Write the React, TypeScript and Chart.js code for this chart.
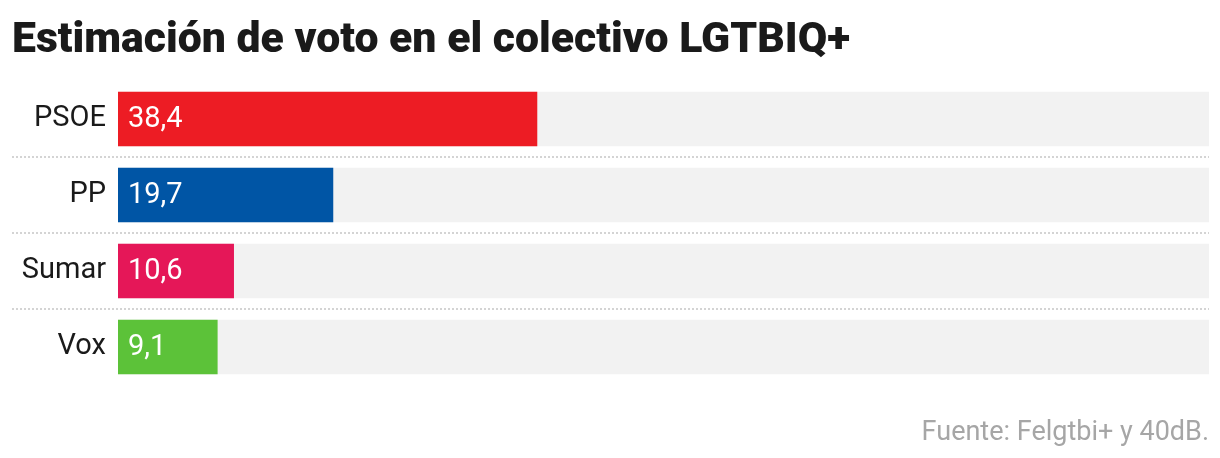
import React, { useEffect, useRef } from "react";
import { Chart, registerables } from "chart.js";

Chart.register(...registerables);

const categories = ["PSOE", "PP", "Sumar", "Vox"];
const values = [38.4, 19.7, 10.6, 9.1];
const barColors = ["#ED1C24", "#0055A5", "#E51758", "#5CC239"];
const trackValues = [100, 100, 100, 100];
const titleText = "Estimación de voto en el colectivo LGTBIQ+";
const sourceText = "Fuente: Felgtbi+ y 40dB.";

const fmt = (v: number) => v.toFixed(1).replace(".", ",");

const decor = {
  id: "decor",
  afterDatasetsDraw(chart: any) {
    const ctx = chart.ctx;
    const y = chart.scales.y;
    const area = chart.chartArea;
    ctx.save();
    // separators
    ctx.strokeStyle = "#d4d4d4";
    ctx.lineWidth = 2;
    ctx.setLineDash([2, 2]);
    for (let i = 0; i < categories.length - 1; i++) {
      const yy = Math.round((y.getPixelForValue(i) + y.getPixelForValue(i + 1)) / 2);
      ctx.beginPath();
      ctx.moveTo(12, yy);
      ctx.lineTo(area.right, yy);
      ctx.stroke();
    }
    ctx.setLineDash([]);
    // value labels
    ctx.fillStyle = "#ffffff";
    ctx.font = "29px Roboto";
    ctx.textAlign = "left";
    ctx.textBaseline = "middle";
    values.forEach((v, i) => {
      ctx.fillText(fmt(v), area.left + 10, y.getPixelForValue(i) + 1);
    });
    ctx.restore();
  },
  afterDraw(chart: any) {
    const ctx = chart.ctx;
    const area = chart.chartArea;
    ctx.save();
    // title
    ctx.fillStyle = "#1a1a1a";
    ctx.font = "900 43px Roboto";
    ctx.textAlign = "left";
    ctx.textBaseline = "alphabetic";
    const w = ctx.measureText(titleText).width;
    const s = 838 / w;
    ctx.translate(12, 52);
    ctx.scale(s, 1);
    ctx.fillText(titleText, 0, 0);
    ctx.restore();
    // source
    ctx.save();
    ctx.fillStyle = "#a6a6a6";
    ctx.font = "27px Roboto";
    ctx.textAlign = "right";
    ctx.textBaseline = "alphabetic";
    ctx.fillText(sourceText, area.right, 440);
    ctx.restore();
  },
};

export default function App() {
  const ref = useRef<HTMLCanvasElement>(null);
  useEffect(() => {
    if (!ref.current) return;
    const chart = new Chart(ref.current, {
      type: "bar",
      data: {
        labels: categories,
        datasets: [
          {
            data: values,
            backgroundColor: barColors,
            barThickness: 54,
            grouped: false,
            order: 0,
          } as any,
          {
            data: trackValues,
            backgroundColor: "#F2F2F2",
            barThickness: 54,
            grouped: false,
            order: 1,
          } as any,
        ],
      },
      options: {
        indexAxis: "y",
        animation: false,
        responsive: false,
        devicePixelRatio: 1,
        layout: { padding: { top: 81, bottom: 73, left: 0, right: 11 } },
        plugins: {
          legend: { display: false },
          title: { display: false },
          tooltip: { enabled: false },
        },
        scales: {
          x: { display: false, min: 0, max: 100 },
          y: {
            grid: { display: false, drawTicks: false },
            border: { display: false },
            ticks: {
              color: "#1a1a1a",
              font: { family: "Roboto", size: 29 },
              padding: 12,
            },
            afterFit(scale: any) {
              scale.width = 118;
            },
          },
        },
      },
      plugins: [decor],
    });
    return () => chart.destroy();
  }, []);
  return (
    <div style={{ position: "absolute", left: 0, top: 0, width: 1220, height: 458, background: "#fff" }}>
      <canvas ref={ref} width={1220} height={458} style={{ width: 1220, height: 458 }} />
    </div>
  );
}
